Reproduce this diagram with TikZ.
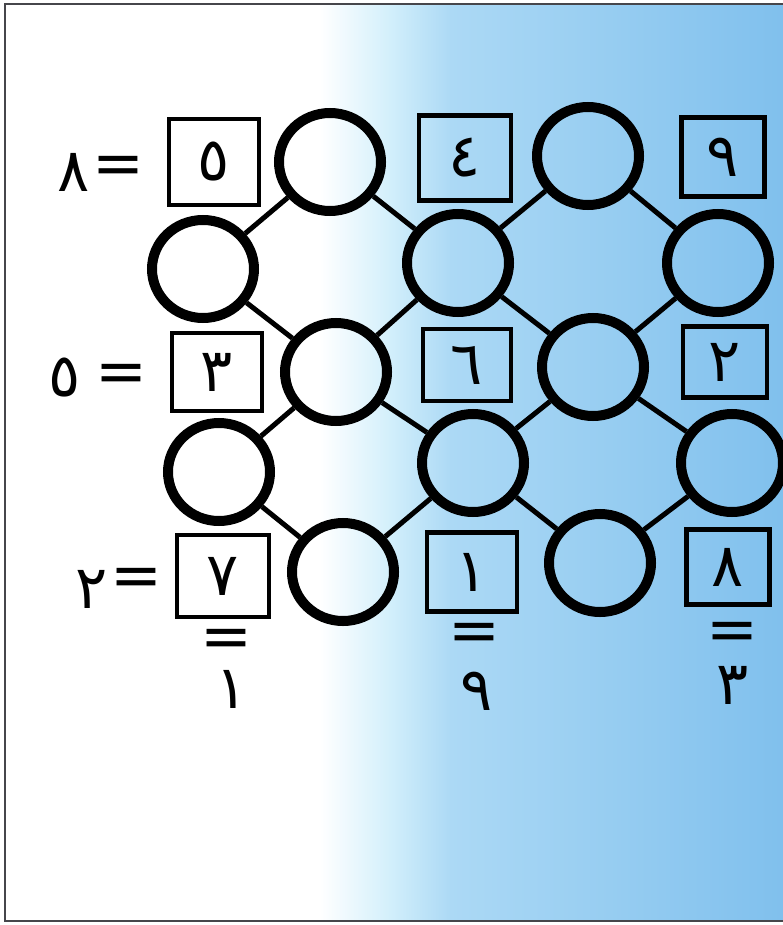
\documentclass[tikz,border=0pt]{standalone}
\usepackage{fontspec}
\usetikzlibrary{shapes.geometric}
\newfontfamily\arfont[Script=Arabic]{DejaVu Sans}
\definecolor{bgA}{RGB}{210,239,251}
\definecolor{bgB}{RGB}{172,217,245}
\definecolor{bgC}{RGB}{128,192,237}
\definecolor{frame}{RGB}{70,70,75}
\begin{document}
\begin{tikzpicture}[x=1pt,y=-1pt,
  ring/.style={ellipse,draw=black,line width=10pt,minimum width=102pt,minimum height=98pt,inner sep=0pt},
  numbox/.style={rectangle,draw=black,line width=4.5pt,inner sep=0pt,font=\arfont\fontsize{60}{60}\selectfont},
  link/.style={line width=5pt,black},
  lbl/.style={inner sep=0pt,font=\arfont\fontsize{60}{60}\selectfont},
  eq/.style={inner sep=0pt,font=\arfont\fontsize{62}{62}\selectfont}]
\useasboundingbox (0,0) rectangle (783,925);
\fill[white] (0,0) rectangle (783,925);
\fill[left color=white,right color=bgA] (320,4) rectangle (391,921);
\fill[left color=bgA,right color=bgB] (390,4) rectangle (451,921);
\fill[left color=bgB,right color=bgC] (450,4) rectangle (783,921);
\draw[line width=2.5pt,frame] (783,4) -- (5,4) -- (5,921) -- (783,921);

% boxes
\node[numbox,minimum width=90pt,minimum height=86pt] (b11) at (214,162) {٥};
\node[numbox,minimum width=92pt,minimum height=85pt] (b12) at (465,158) {٤};
\node[numbox,minimum width=83pt,minimum height=79pt] (b13) at (723,157) {٩};
\node[numbox,minimum width=90pt,minimum height=78pt] (b21) at (217,372) {٣};
\node[numbox,minimum width=88pt,minimum height=72pt] (b22) at (467,365) {٦};
\node[numbox,minimum width=84pt,minimum height=71pt] (b23) at (725,362) {٢};
\node[numbox,minimum width=92pt,minimum height=82pt] (b31) at (223,576) {٧};
\node[numbox,minimum width=90pt,minimum height=79pt] (b32) at (472,572) {١};
\node[numbox,minimum width=83pt,minimum height=75pt] (b33) at (728,567) {٨};

% circles
\node[ring] (cA1) at (330,162) {};
\node[ring] (cA2) at (588,156) {};
\node[ring] (cB1) at (203,269) {};
\node[ring] (cB2) at (458,263) {};
\node[ring] (cB3) at (718,263) {};
\node[ring] (cC1) at (336,372) {};
\node[ring] (cC2) at (593,367) {};
\node[ring] (cD1) at (219,472) {};
\node[ring] (cD2) at (473,463) {};
\node[ring] (cD3) at (732,463) {};
\node[ring] (cE1) at (343,572) {};
\node[ring] (cE2) at (600,563) {};

% links
\draw[link] (cA1) -- (cB1);
\draw[link] (cA1) -- (cB2);
\draw[link] (cB2) -- (cA2);
\draw[link] (cA2) -- (cB3);
\draw[link] (cB1) -- (cC1);
\draw[link] (cB2) -- (cC1);
\draw[link] (cB2) -- (cC2);
\draw[link] (cB3) -- (cC2);
\draw[link] (cC1) -- (cD1);
\draw[link] (cC1) -- (cD2);
\draw[link] (cC2) -- (cD2);
\draw[link] (cC2) -- (cD3);
\draw[link] (cD1) -- (cE1);
\draw[link] (cD2) -- (cE1);
\draw[link] (cD2) -- (cE2);
\draw[link] (cD3) -- (cE2);

% side labels
\node[lbl] (l1) at (74,172) {٨};
\node[eq] (e1) at (118,170) {=};
\node[lbl] (l2) at (65,377) {٥};
\node[eq] (e2) at (121,378) {=};
\node[lbl] (l3) at (92,589) {٢};
\node[eq] (e3) at (136,582) {=};

% bottom labels
\node[eq] (f1) at (226,643) {=};
\node[lbl] (m1) at (232,689) {١};
\node[eq] (f2) at (474,637) {=};
\node[lbl] (m2) at (477,691) {٩};
\node[eq] (f3) at (732,636) {=};
\node[lbl] (m3) at (733,685) {٣};
\end{tikzpicture}
\end{document}
